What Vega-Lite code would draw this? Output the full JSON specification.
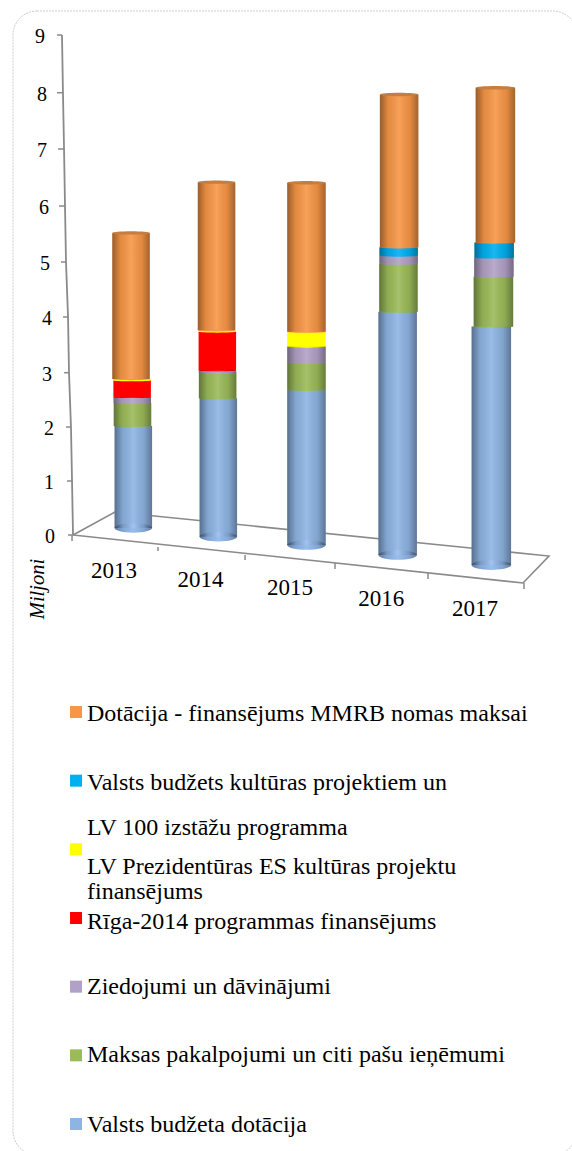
{
"$schema":"https://vega.github.io/schema/vega-lite/v6.json",
"width":572,"height":1151,"padding":0,
"autosize":"none",
"background":"white",
"view":{"stroke":null},
"config":{"text":{"font":"Liberation Serif","color":"#000000"},"scale":{"continuousPadding":0}},
"datasets":{
"bars":[
{"year":2013,"rank":1,"series":"Valsts budžeta dotācija","value":1.82},
{"year":2013,"rank":2,"series":"Maksas pakalpojumi un citi pašu ieņēmumi","value":0.41},
{"year":2013,"rank":3,"series":"Ziedojumi un dāvinājumi","value":0.11},
{"year":2013,"rank":4,"series":"Rīga-2014 programmas finansējums","value":0.30},
{"year":2013,"rank":5,"series":"LV Prezidentūras ES kultūras projektu finansējums","value":0.02},
{"year":2013,"rank":7,"series":"Dotācija - finansējums MMRB nomas maksai","value":2.61},
{"year":2014,"rank":1,"series":"Valsts budžeta dotācija","value":2.43},
{"year":2014,"rank":2,"series":"Maksas pakalpojumi un citi pašu ieņēmumi","value":0.44},
{"year":2014,"rank":3,"series":"Ziedojumi un dāvinājumi","value":0.05},
{"year":2014,"rank":4,"series":"Rīga-2014 programmas finansējums","value":0.68},
{"year":2014,"rank":5,"series":"LV Prezidentūras ES kultūras projektu finansējums","value":0.02},
{"year":2014,"rank":7,"series":"Dotācija - finansējums MMRB nomas maksai","value":2.60},
{"year":2015,"rank":1,"series":"Valsts budžeta dotācija","value":2.70},
{"year":2015,"rank":2,"series":"Maksas pakalpojumi un citi pašu ieņēmumi","value":0.47},
{"year":2015,"rank":3,"series":"Ziedojumi un dāvinājumi","value":0.28},
{"year":2015,"rank":5,"series":"LV Prezidentūras ES kultūras projektu finansējums","value":0.26},
{"year":2015,"rank":7,"series":"Dotācija - finansējums MMRB nomas maksai","value":2.59},
{"year":2016,"rank":1,"series":"Valsts budžeta dotācija","value":4.16},
{"year":2016,"rank":2,"series":"Maksas pakalpojumi un citi pašu ieņēmumi","value":0.82},
{"year":2016,"rank":3,"series":"Ziedojumi un dāvinājumi","value":0.14},
{"year":2016,"rank":6,"series":"Valsts budžets kultūras projektiem un LV 100 izstāžu programma","value":0.14},
{"year":2016,"rank":7,"series":"Dotācija - finansējums MMRB nomas maksai","value":2.61},
{"year":2017,"rank":1,"series":"Valsts budžeta dotācija","value":4.01},
{"year":2017,"rank":2,"series":"Maksas pakalpojumi un citi pašu ieņēmumi","value":0.84},
{"year":2017,"rank":3,"series":"Ziedojumi un dāvinājumi","value":0.32},
{"year":2017,"rank":6,"series":"Valsts budžets kultūras projektiem un LV 100 izstāžu programma","value":0.25},
{"year":2017,"rank":7,"series":"Dotācija - finansējums MMRB nomas maksai","value":2.60}
],
"axisLine":[
{"u":2012.19,"v":9},{"u":2012.201,"v":8},{"u":2012.213,"v":7},{"u":2012.224,"v":6},{"u":2012.235,"v":5},{"u":2012.258,"v":4},{"u":2012.269,"v":3},{"u":2012.291,"v":2},{"u":2012.303,"v":1},{"u":2012.314,"v":0}
],
"floor":[
{"u":2012.314,"v":0},{"u":2017.376,"v":-0.889},{"u":2017.668,"v":-0.389},{"u":2012.786,"v":0.426},{"u":2012.314,"v":0}
],
"ticks":[
{"u0":2012.134,"u1":2012.19,"v0":9,"v1":9},
{"u0":2012.134,"u1":2012.201,"v0":8,"v1":8},
{"u0":2012.145,"u1":2012.213,"v0":7,"v1":7},
{"u0":2012.156,"u1":2012.224,"v0":6,"v1":6},
{"u0":2012.179,"u1":2012.235,"v0":5,"v1":5},
{"u0":2012.201,"u1":2012.258,"v0":4,"v1":4},
{"u0":2012.213,"u1":2012.269,"v0":3,"v1":3},
{"u0":2012.235,"u1":2012.291,"v0":2,"v1":2},
{"u0":2012.246,"u1":2012.303,"v0":1,"v1":1},
{"u0":2012.258,"u1":2012.314,"v0":0,"v1":0},
{"u0":2012.303,"u1":2012.303,"v0":0,"v1":-0.111},
{"u0":2013.27,"u1":2013.27,"v0":-0.222,"v1":-0.296},
{"u0":2014.249,"u1":2014.249,"v0":-0.37,"v1":-0.463},
{"u0":2015.261,"u1":2015.261,"v0":-0.519,"v1":-0.63},
{"u0":2016.307,"u1":2016.307,"v0":-0.704,"v1":-0.815},
{"u0":2017.387,"u1":2017.387,"v0":-0.889,"v1":-1.0}
],
"yLabels":[
{"t":"9","u":2012.0,"v":9},{"t":"8","u":2012.022,"v":8},{"t":"7","u":2012.022,"v":7},{"t":"6","u":2012.045,"v":6},{"t":"5","u":2012.056,"v":5},{"t":"4","u":2012.078,"v":4},{"t":"3","u":2012.078,"v":3},{"t":"2","u":2012.101,"v":2},{"t":"1","u":2012.101,"v":1},{"t":"0","u":2012.112,"v":0}
],
"xLabels":[
{"t":"2013","u":2012.775,"v":-0.648},{"t":"2014","u":2013.748,"v":-0.815},{"t":"2015","u":2014.755,"v":-0.963},{"t":"2016","u":2015.78,"v":-1.167},{"t":"2017","u":2016.836,"v":-1.352}
],
"legendSwatches":[
{"series":"Dotācija - finansējums MMRB nomas maksai","row":0},
{"series":"Valsts budžets kultūras projektiem un LV 100 izstāžu programma","row":1},
{"series":"LV Prezidentūras ES kultūras projektu finansējums","row":2},
{"series":"Rīga-2014 programmas finansējums","row":3},
{"series":"Ziedojumi un dāvinājumi","row":4},
{"series":"Maksas pakalpojumi un citi pašu ieņēmumi","row":5},
{"series":"Valsts budžeta dotācija","row":6}
],
"legendLines":[
{"t":"Dotācija - finansējums MMRB nomas maksai","row":0.015},
{"t":"Valsts budžets kultūras projektiem un","row":1.019},
{"t":"LV 100 izstāžu programma","row":1.675},
{"t":"LV Prezidentūras ES kultūras projektu","row":2.243},
{"t":"finansējums","row":2.607},
{"t":"Rīga-2014 programmas finansējums","row":3.044},
{"t":"Ziedojumi un dāvinājumi","row":3.99},
{"t":"Maksas pakalpojumi un citi pašu ieņēmumi","row":4.98},
{"t":"Valsts budžeta dotācija","row":6}
]
},
"data":{"name":"bars"},
"resolve":{"scale":{"y":"independent"}},
"layer":[
{"data":{"name":"ticks"},"mark":{"type":"rule","color":"#8a8a8a","strokeWidth":1.5},
 "encoding":{"x":{"field":"u0","type":"quantitative","axis":null,"scale":{"domain":[2011.4927,2017.9269],"nice":false,"zero":false}},"x2":{"field":"u1"},
 "y":{"field":"v0","type":"quantitative","axis":null,"scale":{"domain":[0,1,2,3,4,5,6,7,8,9],"range":[535,481,427,372.7,317,262,206,149,92.7,35]}},"y2":{"field":"v1"}}},
{"data":{"name":"axisLine"},"mark":{"type":"line","color":"#8a8a8a","strokeWidth":1.8},
 "encoding":{"x":{"field":"u","type":"quantitative","axis":null,"scale":{"domain":[2011.4927,2017.9269],"nice":false,"zero":false}},
 "y":{"field":"v","type":"quantitative","axis":null,"scale":{"domain":[0,1,2,3,4,5,6,7,8,9],"range":[535,481,427,372.7,317,262,206,149,92.7,35]}},"order":{"field":"v"}}},
{"data":{"name":"floor"},"mark":{"type":"line","color":"#8a8a8a","strokeWidth":1.6},
 "encoding":{"x":{"field":"u","type":"quantitative","axis":null,"scale":{"domain":[2011.4927,2017.9269],"nice":false,"zero":false}},
 "y":{"field":"v","type":"quantitative","axis":null,"scale":{"domain":[0,1,2,3,4,5,6,7,8,9],"range":[535,481,427,372.7,317,262,206,149,92.7,35]}},"order":{"value":null}}},
{"data":{"name":"yLabels"},"mark":{"type":"text","fontSize":20,"align":"right","baseline":"middle","dy":2,"font":"Liberation Serif"},
 "encoding":{"x":{"field":"u","type":"quantitative","axis":null,"scale":{"domain":[2011.4927,2017.9269],"nice":false,"zero":false}},
 "y":{"field":"v","type":"quantitative","axis":null,"scale":{"domain":[0,1,2,3,4,5,6,7,8,9],"range":[535,481,427,372.7,317,262,206,149,92.7,35]}},"text":{"field":"t"}}},
{"data":{"name":"xLabels"},"mark":{"type":"text","fontSize":23,"align":"center","baseline":"middle","dy":1,"font":"Liberation Serif"},
 "encoding":{"x":{"field":"u","type":"quantitative","axis":null,"scale":{"domain":[2011.4927,2017.9269],"nice":false,"zero":false}},
 "y":{"field":"v","type":"quantitative","axis":null,"scale":{"domain":[0,1,2,3,4,5,6,7,8,9],"range":[535,481,427,372.7,317,262,206,149,92.7,35]}},"text":{"field":"t"}}},
{"data":{"values":[{"t":"Miljoni","u":2011.92,"v":-1.0}]},"mark":{"type":"text","fontSize":20.5,"fontStyle":"italic","angle":270,"align":"center","baseline":"middle","font":"Liberation Serif"},
 "encoding":{"x":{"field":"u","type":"quantitative","axis":null,"scale":{"domain":[2011.4927,2017.9269],"nice":false,"zero":false}},
 "y":{"field":"v","type":"quantitative","axis":null,"scale":{"domain":[0,1,2,3,4,5,6,7,8,9],"range":[535,481,427,372.7,317,262,206,149,92.7,35]}},"text":{"field":"t"}}},
{"data":{"values":[{"a":2011.639,"b":2017.983,"v0":9.416,"v1":-11.48}]},"mark":{"type":"rect","fillOpacity":0,"stroke":"#cdcdcd","strokeWidth":1,"strokeDash":[2,1],"cornerRadius":24},
 "encoding":{"x":{"field":"a","type":"quantitative","axis":null,"scale":{"domain":[2011.4927,2017.9269],"nice":false,"zero":false}},"x2":{"field":"b"},
 "y":{"field":"v0","type":"quantitative","axis":null,"scale":{"domain":[0,1,2,3,4,5,6,7,8,9],"range":[535,481,427,372.7,317,262,206,149,92.7,35]}},"y2":{"field":"v1"}}},

{"transform":[{"filter":"datum.year==2013"},{"stack":"value","groupby":["year"],"sort":[{"field":"rank"}],"as":["y0","y1"]},{"calculate":"datum.year-0.0084*(datum.y0+datum.y1)/2","as":"xc"}],
 "encoding":{"x":{"field":"xc","type":"quantitative","axis":null,"scale":{"domain":[2011.4927,2017.9269],"nice":false,"zero":false}},
 "y":{"field":"y0","type":"quantitative","axis":null,"scale":{"domain":[-11.125,9.4286],"nice":false,"zero":false}},
 "color":{"field":"series","type":"nominal","legend":null,"scale":{"domain":["Valsts budžeta dotācija","Maksas pakalpojumi un citi pašu ieņēmumi","Ziedojumi un dāvinājumi","Rīga-2014 programmas finansējums","LV Prezidentūras ES kultūras projektu finansējums","Valsts budžets kultūras projektiem un LV 100 izstāžu programma","Dotācija - finansējums MMRB nomas maksai"],"range":["#8eb4e3","#9bbb59","#b2a1c7","#ff0000","#ffff00","#00b0f0","#f79646"]}}},
 "layer":[
 {"mark":{"type":"bar","width":37.5,"orient":"vertical"},"encoding":{"y2":{"field":"y1"}}},
 {"transform":[{"filter":"datum.rank>1"}],"mark":{"type":"point","filled":true,"opacity":1,"strokeWidth":0,"size":1406,"shape":"M-1,0A1,0.06 0 1 0 1,0A1,0.06 0 1 0 -1,0Z"}},
 {"transform":[{"filter":"datum.rank==1"}],"mark":{"type":"point","filled":true,"opacity":1,"strokeWidth":0,"size":1406,"shape":"M-1,0A1,0.25 0 1 0 1,0A1,0.25 0 1 0 -1,0Z"},"encoding":{"color":{"value":{"gradient":"linear","x1":0,"x2":1,"y1":0,"y2":0,"stops":[{"offset":0,"color":"#5f7ba0"},{"offset":0.22,"color":"#83a7d4"},{"offset":0.5,"color":"#98bdee"},{"offset":0.78,"color":"#83a7d4"},{"offset":1,"color":"#627ea3"}]}}}},
 {"transform":[{"filter":"datum.rank!=4&&datum.rank!=5"}],"mark":{"type":"bar","width":37.5,"orient":"vertical"},"encoding":{"y2":{"field":"y1"},"color":{"value":{"gradient":"linear","x1":0,"x2":1,"y1":0,"y2":0,"stops":[{"offset":0,"color":"rgba(0,0,0,0.38)"},{"offset":0.22,"color":"rgba(0,0,0,0.08)"},{"offset":0.5,"color":"rgba(255,255,255,0.1)"},{"offset":0.78,"color":"rgba(0,0,0,0.08)"},{"offset":1,"color":"rgba(0,0,0,0.34)"}]}}}},
 {"transform":[{"filter":"datum.rank==7"}],"mark":{"type":"point","filled":true,"opacity":1,"strokeWidth":0,"size":1406,"shape":"M-1,0A1,0.09 0 1 0 1,0A1,0.09 0 1 0 -1,0Z"},"encoding":{"y":{"field":"y1","type":"quantitative","axis":null,"scale":{"domain":[-11.125,9.4286],"nice":false,"zero":false}},"color":{"value":"#c67d3e"}}}
 ]},

{"transform":[{"filter":"datum.year==2014"},{"stack":"value","groupby":["year"],"sort":[{"field":"rank"}],"as":["y0","y1"]},{"calculate":"datum.year-0.045-0.0054*(datum.y0+datum.y1)/2","as":"xc"}],
 "encoding":{"x":{"field":"xc","type":"quantitative","axis":null,"scale":{"domain":[2011.4927,2017.9269],"nice":false,"zero":false}},
 "y":{"field":"y0","type":"quantitative","axis":null,"scale":{"domain":[-10.777,9.416],"nice":false,"zero":false}},
 "color":{"field":"series","type":"nominal","legend":null,"scale":{"domain":["Valsts budžeta dotācija","Maksas pakalpojumi un citi pašu ieņēmumi","Ziedojumi un dāvinājumi","Rīga-2014 programmas finansējums","LV Prezidentūras ES kultūras projektu finansējums","Valsts budžets kultūras projektiem un LV 100 izstāžu programma","Dotācija - finansējums MMRB nomas maksai"],"range":["#8eb4e3","#9bbb59","#b2a1c7","#ff0000","#ffff00","#00b0f0","#f79646"]}}},
 "layer":[
 {"mark":{"type":"bar","width":37.5,"orient":"vertical"},"encoding":{"y2":{"field":"y1"}}},
 {"transform":[{"filter":"datum.rank>1"}],"mark":{"type":"point","filled":true,"opacity":1,"strokeWidth":0,"size":1406,"shape":"M-1,0A1,0.06 0 1 0 1,0A1,0.06 0 1 0 -1,0Z"}},
 {"transform":[{"filter":"datum.rank==1"}],"mark":{"type":"point","filled":true,"opacity":1,"strokeWidth":0,"size":1406,"shape":"M-1,0A1,0.25 0 1 0 1,0A1,0.25 0 1 0 -1,0Z"},"encoding":{"color":{"value":{"gradient":"linear","x1":0,"x2":1,"y1":0,"y2":0,"stops":[{"offset":0,"color":"#5f7ba0"},{"offset":0.22,"color":"#83a7d4"},{"offset":0.5,"color":"#98bdee"},{"offset":0.78,"color":"#83a7d4"},{"offset":1,"color":"#627ea3"}]}}}},
 {"transform":[{"filter":"datum.rank!=4&&datum.rank!=5"}],"mark":{"type":"bar","width":37.5,"orient":"vertical"},"encoding":{"y2":{"field":"y1"},"color":{"value":{"gradient":"linear","x1":0,"x2":1,"y1":0,"y2":0,"stops":[{"offset":0,"color":"rgba(0,0,0,0.38)"},{"offset":0.22,"color":"rgba(0,0,0,0.08)"},{"offset":0.5,"color":"rgba(255,255,255,0.1)"},{"offset":0.78,"color":"rgba(0,0,0,0.08)"},{"offset":1,"color":"rgba(0,0,0,0.34)"}]}}}},
 {"transform":[{"filter":"datum.rank==7"}],"mark":{"type":"point","filled":true,"opacity":1,"strokeWidth":0,"size":1406,"shape":"M-1,0A1,0.09 0 1 0 1,0A1,0.09 0 1 0 -1,0Z"},"encoding":{"y":{"field":"y1","type":"quantitative","axis":null,"scale":{"domain":[-10.777,9.416],"nice":false,"zero":false}},"color":{"value":"#c67d3e"}}}
 ]},

{"transform":[{"filter":"datum.year==2015"},{"stack":"value","groupby":["year"],"sort":[{"field":"rank"}],"as":["y0","y1"]},{"calculate":"datum.year-0.06","as":"xc"}],
 "encoding":{"x":{"field":"xc","type":"quantitative","axis":null,"scale":{"domain":[2011.4927,2017.9269],"nice":false,"zero":false}},
 "y":{"field":"y0","type":"quantitative","axis":null,"scale":{"domain":[-10.539,9.478],"nice":false,"zero":false}},
 "color":{"field":"series","type":"nominal","legend":null,"scale":{"domain":["Valsts budžeta dotācija","Maksas pakalpojumi un citi pašu ieņēmumi","Ziedojumi un dāvinājumi","Rīga-2014 programmas finansējums","LV Prezidentūras ES kultūras projektu finansējums","Valsts budžets kultūras projektiem un LV 100 izstāžu programma","Dotācija - finansējums MMRB nomas maksai"],"range":["#8eb4e3","#9bbb59","#b2a1c7","#ff0000","#ffff00","#00b0f0","#f79646"]}}},
 "layer":[
 {"mark":{"type":"bar","width":38.5,"orient":"vertical"},"encoding":{"y2":{"field":"y1"}}},
 {"transform":[{"filter":"datum.rank>1"}],"mark":{"type":"point","filled":true,"opacity":1,"strokeWidth":0,"size":1482,"shape":"M-1,0A1,0.06 0 1 0 1,0A1,0.06 0 1 0 -1,0Z"}},
 {"transform":[{"filter":"datum.rank==1"}],"mark":{"type":"point","filled":true,"opacity":1,"strokeWidth":0,"size":1482,"shape":"M-1,0A1,0.25 0 1 0 1,0A1,0.25 0 1 0 -1,0Z"},"encoding":{"color":{"value":{"gradient":"linear","x1":0,"x2":1,"y1":0,"y2":0,"stops":[{"offset":0,"color":"#5f7ba0"},{"offset":0.22,"color":"#83a7d4"},{"offset":0.5,"color":"#98bdee"},{"offset":0.78,"color":"#83a7d4"},{"offset":1,"color":"#627ea3"}]}}}},
 {"transform":[{"filter":"datum.rank!=4&&datum.rank!=5"}],"mark":{"type":"bar","width":38.5,"orient":"vertical"},"encoding":{"y2":{"field":"y1"},"color":{"value":{"gradient":"linear","x1":0,"x2":1,"y1":0,"y2":0,"stops":[{"offset":0,"color":"rgba(0,0,0,0.38)"},{"offset":0.22,"color":"rgba(0,0,0,0.08)"},{"offset":0.5,"color":"rgba(255,255,255,0.1)"},{"offset":0.78,"color":"rgba(0,0,0,0.08)"},{"offset":1,"color":"rgba(0,0,0,0.34)"}]}}}},
 {"transform":[{"filter":"datum.rank==7"}],"mark":{"type":"point","filled":true,"opacity":1,"strokeWidth":0,"size":1482,"shape":"M-1,0A1,0.09 0 1 0 1,0A1,0.09 0 1 0 -1,0Z"},"encoding":{"y":{"field":"y1","type":"quantitative","axis":null,"scale":{"domain":[-10.539,9.478],"nice":false,"zero":false}},"color":{"value":"#c67d3e"}}}
 ]},

{"transform":[{"filter":"datum.year==2016"},{"stack":"value","groupby":["year"],"sort":[{"field":"rank"}],"as":["y0","y1"]},{"calculate":"datum.year-0.042+0.0037*(datum.y0+datum.y1)/2","as":"xc"}],
 "encoding":{"x":{"field":"xc","type":"quantitative","axis":null,"scale":{"domain":[2011.4927,2017.9269],"nice":false,"zero":false}},
 "y":{"field":"y0","type":"quantitative","axis":null,"scale":{"domain":[-10.188,9.487],"nice":false,"zero":false}},
 "color":{"field":"series","type":"nominal","legend":null,"scale":{"domain":["Valsts budžeta dotācija","Maksas pakalpojumi un citi pašu ieņēmumi","Ziedojumi un dāvinājumi","Rīga-2014 programmas finansējums","LV Prezidentūras ES kultūras projektu finansējums","Valsts budžets kultūras projektiem un LV 100 izstāžu programma","Dotācija - finansējums MMRB nomas maksai"],"range":["#8eb4e3","#9bbb59","#b2a1c7","#ff0000","#ffff00","#00b0f0","#f79646"]}}},
 "layer":[
 {"mark":{"type":"bar","width":38.5,"orient":"vertical"},"encoding":{"y2":{"field":"y1"}}},
 {"transform":[{"filter":"datum.rank>1"}],"mark":{"type":"point","filled":true,"opacity":1,"strokeWidth":0,"size":1482,"shape":"M-1,0A1,0.06 0 1 0 1,0A1,0.06 0 1 0 -1,0Z"}},
 {"transform":[{"filter":"datum.rank==1"}],"mark":{"type":"point","filled":true,"opacity":1,"strokeWidth":0,"size":1482,"shape":"M-1,0A1,0.25 0 1 0 1,0A1,0.25 0 1 0 -1,0Z"},"encoding":{"color":{"value":{"gradient":"linear","x1":0,"x2":1,"y1":0,"y2":0,"stops":[{"offset":0,"color":"#5f7ba0"},{"offset":0.22,"color":"#83a7d4"},{"offset":0.5,"color":"#98bdee"},{"offset":0.78,"color":"#83a7d4"},{"offset":1,"color":"#627ea3"}]}}}},
 {"transform":[{"filter":"datum.rank!=4&&datum.rank!=5"}],"mark":{"type":"bar","width":38.5,"orient":"vertical"},"encoding":{"y2":{"field":"y1"},"color":{"value":{"gradient":"linear","x1":0,"x2":1,"y1":0,"y2":0,"stops":[{"offset":0,"color":"rgba(0,0,0,0.38)"},{"offset":0.22,"color":"rgba(0,0,0,0.08)"},{"offset":0.5,"color":"rgba(255,255,255,0.1)"},{"offset":0.78,"color":"rgba(0,0,0,0.08)"},{"offset":1,"color":"rgba(0,0,0,0.34)"}]}}}},
 {"transform":[{"filter":"datum.rank==7"}],"mark":{"type":"point","filled":true,"opacity":1,"strokeWidth":0,"size":1482,"shape":"M-1,0A1,0.09 0 1 0 1,0A1,0.09 0 1 0 -1,0Z"},"encoding":{"y":{"field":"y1","type":"quantitative","axis":null,"scale":{"domain":[-10.188,9.487],"nice":false,"zero":false}},"color":{"value":"#c67d3e"}}}
 ]},

{"transform":[{"filter":"datum.year==2017"},{"stack":"value","groupby":["year"],"sort":[{"field":"rank"}],"as":["y0","y1"]},{"calculate":"datum.year+0.0097*(datum.y0+datum.y1)/2","as":"xc"}],
 "encoding":{"x":{"field":"xc","type":"quantitative","axis":null,"scale":{"domain":[2011.4927,2017.9269],"nice":false,"zero":false}},
 "y":{"field":"y0","type":"quantitative","axis":null,"scale":{"domain":[-9.849,9.496],"nice":false,"zero":false}},
 "color":{"field":"series","type":"nominal","legend":null,"scale":{"domain":["Valsts budžeta dotācija","Maksas pakalpojumi un citi pašu ieņēmumi","Ziedojumi un dāvinājumi","Rīga-2014 programmas finansējums","LV Prezidentūras ES kultūras projektu finansējums","Valsts budžets kultūras projektiem un LV 100 izstāžu programma","Dotācija - finansējums MMRB nomas maksai"],"range":["#8eb4e3","#9bbb59","#b2a1c7","#ff0000","#ffff00","#00b0f0","#f79646"]}}},
 "layer":[
 {"mark":{"type":"bar","width":39.5,"orient":"vertical"},"encoding":{"y2":{"field":"y1"}}},
 {"transform":[{"filter":"datum.rank>1"}],"mark":{"type":"point","filled":true,"opacity":1,"strokeWidth":0,"size":1560,"shape":"M-1,0A1,0.06 0 1 0 1,0A1,0.06 0 1 0 -1,0Z"}},
 {"transform":[{"filter":"datum.rank==1"}],"mark":{"type":"point","filled":true,"opacity":1,"strokeWidth":0,"size":1560,"shape":"M-1,0A1,0.25 0 1 0 1,0A1,0.25 0 1 0 -1,0Z"},"encoding":{"color":{"value":{"gradient":"linear","x1":0,"x2":1,"y1":0,"y2":0,"stops":[{"offset":0,"color":"#5f7ba0"},{"offset":0.22,"color":"#83a7d4"},{"offset":0.5,"color":"#98bdee"},{"offset":0.78,"color":"#83a7d4"},{"offset":1,"color":"#627ea3"}]}}}},
 {"transform":[{"filter":"datum.rank!=4&&datum.rank!=5"}],"mark":{"type":"bar","width":39.5,"orient":"vertical"},"encoding":{"y2":{"field":"y1"},"color":{"value":{"gradient":"linear","x1":0,"x2":1,"y1":0,"y2":0,"stops":[{"offset":0,"color":"rgba(0,0,0,0.38)"},{"offset":0.22,"color":"rgba(0,0,0,0.08)"},{"offset":0.5,"color":"rgba(255,255,255,0.1)"},{"offset":0.78,"color":"rgba(0,0,0,0.08)"},{"offset":1,"color":"rgba(0,0,0,0.34)"}]}}}},
 {"transform":[{"filter":"datum.rank==7"}],"mark":{"type":"point","filled":true,"opacity":1,"strokeWidth":0,"size":1560,"shape":"M-1,0A1,0.09 0 1 0 1,0A1,0.09 0 1 0 -1,0Z"},"encoding":{"y":{"field":"y1","type":"quantitative","axis":null,"scale":{"domain":[-9.849,9.496],"nice":false,"zero":false}},"color":{"value":"#c67d3e"}}}
 ]},

{"data":{"name":"legendSwatches"},"mark":{"type":"square","size":144,"opacity":1},
 "encoding":{"x":{"datum":2012.348,"type":"quantitative","axis":null,"scale":{"domain":[2011.4927,2017.9269],"nice":false,"zero":false}},
 "y":{"field":"row","type":"quantitative","axis":null,"scale":{"domain":[-10.368,6.393],"range":[0,1151],"nice":false,"zero":false}},
 "color":{"field":"series","type":"nominal","legend":null,"scale":{"domain":["Valsts budžeta dotācija","Maksas pakalpojumi un citi pašu ieņēmumi","Ziedojumi un dāvinājumi","Rīga-2014 programmas finansējums","LV Prezidentūras ES kultūras projektu finansējums","Valsts budžets kultūras projektiem un LV 100 izstāžu programma","Dotācija - finansējums MMRB nomas maksai"],"range":["#8eb4e3","#9bbb59","#b2a1c7","#ff0000","#ffff00","#00b0f0","#f79646"]}}}},
{"data":{"name":"legendLines"},"mark":{"type":"text","fontSize":24,"align":"left","baseline":"middle","dy":1,"font":"Liberation Serif"},
 "encoding":{"x":{"datum":2012.471,"type":"quantitative","axis":null,"scale":{"domain":[2011.4927,2017.9269],"nice":false,"zero":false}},
 "y":{"field":"row","type":"quantitative","axis":null,"scale":{"domain":[-10.368,6.393],"range":[0,1151],"nice":false,"zero":false}},
 "text":{"field":"t"}}}
]
}
